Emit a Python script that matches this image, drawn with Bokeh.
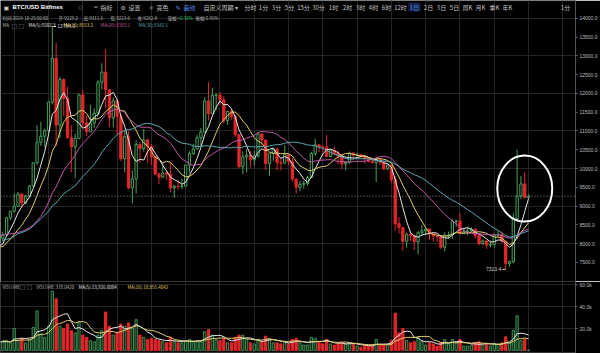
import numpy as np
import pandas as pd
from bokeh.plotting import figure
from bokeh.models import Range1d, FixedTicker, PrintfTickFormatter, Label, Span, ColumnDataSource
from bokeh.layouts import column
from bokeh.embed import file_html
from bokeh.resources import INLINE

# ---------------- data (BTC/USD Bitfinex, daily, 2019-06-13 .. 2019-10-29) ----------------
symbol = "BTC/USD Bitfinex"
start_date = "2019-06-13"

opens = [8140, 8230, 8690, 8860, 8990, 9320, 9080, 9270, 9530, 10150,
         10700, 10860, 11010, 11770, 12930, 11160, 12370, 11865, 10820, 10580,
         10800, 11960, 11215, 10980, 11210, 11475, 12300, 12570, 12100, 11350,
         11800, 11390, 10260, 10850, 9480, 9720, 10640, 10530, 10760, 10590,
         10320, 9850, 9770, 9880, 9850, 9480, 9530, 9520, 9530, 10090,
         10400, 10520, 10820, 10970, 11800, 11460, 11950, 11960, 11830, 11280,
         11520, 11380, 10900, 10050, 10310, 10360, 10230, 10340, 10920, 10760,
         10130, 10410, 10510, 10160, 10140, 10370, 10190, 9720, 9500, 9580,
         9600, 9760, 10400, 10630, 10580, 10570, 10320, 10490, 10400, 10340,
         10120, 10160, 10410, 10360, 10370, 10310, 10260, 10190, 10160, 10240,
         10170, 9990, 10090, 9700, 8530, 8430, 8060, 8240, 8210, 8050,
         8290, 8340, 8390, 8260, 8200, 8190, 7900, 8210, 8230, 8590,
         8600, 8270, 8320, 8340, 8380, 8210, 8000, 8070, 7960, 7980,
         8230, 8240, 8060, 7470, 7520, 8660, 9270, 9590, 9229.2]
highs = [8320, 8700, 8870, 9340, 9370, 9340, 9300, 9560, 10160, 11150,
         11240, 11050, 11790, 13784, 13340, 12450, 12400, 12180, 11150, 10920,
         12000, 12100, 11400, 11700, 11600, 12350, 12800, 13180, 12100, 11900,
         11850, 11450, 11000, 11000, 9950, 10750, 10700, 11050, 10800, 10650,
         10330, 9900, 10150, 9900, 10180, 9560, 9700, 9730, 10100, 10460,
         10660, 10900, 11080, 11900, 12300, 12140, 12000, 12030, 11930, 11530,
         11580, 11420, 10900, 10450, 10520, 10470, 10480, 10950, 10940, 10760,
         10230, 10520, 10560, 10300, 10620, 10380, 10280, 9720, 9670, 9680,
         9800, 10440, 10790, 10640, 10610, 10890, 10520, 10590, 10470, 10380,
         10200, 10450, 10440, 10420, 10380, 10370, 10280, 10240, 10280, 10240,
         10180, 10120, 10090, 9800, 8700, 8440, 8290, 8320, 8240, 8330,
         8500, 8400, 8390, 8250, 8220, 8160, 8300, 8320, 8660, 8640,
         8800, 8420, 8450, 8430, 8410, 8220, 8110, 8090, 8080, 8270,
         8340, 8320, 8030, 7550, 8800, 10500, 9800, 9900, 9311.6]
lows = [8050, 8200, 8630, 8820, 8980, 8950, 9040, 9230, 9530, 10100,
        10600, 10570, 10980, 11700, 10600, 10800, 11400, 10800, 9900, 9750,
        10800, 11100, 10860, 10980, 11080, 11380, 12100, 11600, 11100, 11100,
        10900, 10200, 9900, 9450, 9070, 9330, 10150, 10450, 10150, 10100,
        9830, 9580, 9750, 9690, 9370, 9220, 9430, 9450, 9500, 9890,
        10370, 10520, 10600, 10970, 11280, 11460, 11560, 11700, 11200, 11160,
        11300, 10830, 10000, 9850, 9900, 10030, 10070, 10280, 10600, 9960,
        9800, 10210, 9950, 9950, 10140, 10100, 9650, 9330, 9400, 9460,
        9540, 9750, 10340, 10440, 10430, 10330, 10320, 10350, 10100, 9980,
        9950, 10130, 10220, 10300, 10290, 10130, 10160, 10130, 9640, 10090,
        9960, 9950, 9610, 8350, 8270, 7800, 7890, 8070, 7830, 7710,
        8210, 8230, 8100, 8050, 8050, 7850, 7790, 8130, 8120, 8450,
        8240, 8270, 8220, 8300, 8140, 7950, 7960, 7860, 7900, 7890,
        8170, 8010, 7313.4, 7380, 7480, 8600, 9180, 9200, 9223.6]
closes = [8230, 8690, 8860, 8990, 9320, 9080, 9270, 9530, 10150, 10700,
          10860, 11010, 11770, 12930, 11160, 12370, 11865, 10820, 10580, 10800,
          11960, 11215, 10980, 11210, 11475, 12300, 12570, 12100, 11350, 11800,
          11390, 10260, 10850, 9480, 9720, 10640, 10530, 10760, 10590, 10320,
          9850, 9770, 9880, 9850, 9480, 9530, 9520, 9530, 10090, 10400,
          10520, 10820, 10970, 11800, 11460, 11950, 11960, 11830, 11280, 11520,
          11380, 10900, 10050, 10310, 10360, 10230, 10340, 10920, 10760, 10130,
          10410, 10510, 10160, 10140, 10370, 10190, 9720, 9500, 9580, 9600,
          9760, 10400, 10630, 10580, 10570, 10320, 10490, 10400, 10340, 10120,
          10160, 10410, 10360, 10370, 10310, 10260, 10190, 10160, 10240, 10170,
          9990, 10090, 9700, 8530, 8430, 8060, 8240, 8210, 8050, 8290,
          8340, 8390, 8260, 8200, 8190, 7900, 8210, 8230, 8590, 8600,
          8270, 8320, 8340, 8380, 8210, 8000, 8070, 7960, 7980, 8230,
          8240, 8060, 7470, 7520, 8660, 9270, 9590, 9229.2, 9262.4]
volumes = [8000, 9000, 7000, 20000, 9000, 11000, 7000, 10000, 21000, 36000,
           15000, 12000, 22000, 54000, 47000, 22000, 20000, 24000, 18000, 16000,
           26000, 14000, 12000, 9000, 8000, 14000, 18000, 35000, 22000, 14000,
           16000, 24000, 22000, 25000, 20000, 28000, 14000, 12000, 10000, 11000,
           10000, 9000, 8000, 7000, 12000, 8000, 7000, 7000, 9000, 10000,
           8000, 9000, 8000, 17000, 19000, 14000, 10000, 9000, 11000, 7000,
           7000, 12000, 14000, 14000, 10000, 7000, 6000, 10000, 8000, 13000,
           11000, 7000, 7000, 6000, 8000, 6000, 10000, 11000, 7000, 5000,
           5000, 12000, 11000, 8000, 6000, 10000, 6000, 5000, 6000, 7000,
           6000, 7000, 6000, 4000, 3000, 5000, 4000, 5000, 10000, 5000,
           5000, 5000, 9000, 34000, 16000, 20000, 9000, 7000, 8000, 12000,
           8000, 5000, 7000, 6000, 4000, 7000, 10000, 6000, 10000, 7000,
           10000, 4000, 4000, 5000, 7000, 8000, 5000, 6000, 4000, 6500,
           6000, 7000, 12500, 6924, 18500, 31500, 9000, 10252, 378.042]
# closes / volumes of the days before the first visible candle (only feed the moving averages)
prior_closes = [8200, 7880, 7350, 7270, 8200, 7990, 7950, 7630, 7880, 7990,
                8050, 8670, 8800, 8720, 8660, 8270, 8550, 8560, 8740, 8210,
                7700, 7790, 7800, 8000, 7950, 7630, 8020, 7920, 8140]
prior_volumes = [15000, 10000, 9000, 8000, 7000, 9000, 8000, 7000, 8000]

ma_periods = [5, 10, 20, 30]
ma_colors = ["#e6e6e6", "#e2cd6a", "#c257a8", "#58a8b4"]
vol_ma_periods = [5, 10]
vol_ma_colors = ["#e6e6e6", "#e2cd6a"]
price_ticks = [7500, 8000, 8500, 9000, 9500, 10000, 10500, 11000, 11500,
               12000, 12500, 13000, 13500, 14000]
price_grid = [8000, 9000, 10000, 11000, 12000, 13000, 14000]
volume_ticks = [20000, 40000, 60000]
volume_tick_labels = ["20.0k", "40.0k", "60.0k"]
period_labels = ["分时", "1分", "3分", "5分", "15分", "30分", "1时", "2时", "3时", "4时",
                 "6时", "12时", "1日", "2日", "3日", "5日", "周K", "月K", "季K", "年K"]
active_period = "1日"

# ---------------- layout constants ----------------
W, H_MAIN, H_VOL = 600, 281, 72
AXIS_W = 25
STEP = 3.81                     # px per candle
X_START = -0.6
X_END = X_START + (W - AXIS_W) / STEP
PY = 0.03754                    # px per USD
PRICE_TOP = 10000 + 168 / PY
PRICE_BOT = PRICE_TOP - H_MAIN / PY
VPY = 0.0011                    # px per BTC of volume
VOL_TOP = 60000 + 3 / VPY
VOL_BOT = VOL_TOP - H_VOL / VPY

BG = "#000000"
GRID = "#252525"
UP = "#45a35d"
DOWN = "#e3262b"
TXT = "#bdbdbd"
CJK = "Noto Sans CJK SC"
SYM = "DejaVu Sans"
LAT = "Liberation Sans"


def fx(px):
    return X_START + px / STEP


def fy(py):
    return PRICE_TOP - py / PY


def fvy(py):
    return VOL_TOP - (py - H_MAIN) / VPY


n = len(closes)
idx = np.arange(n)
o = np.array(opens, float)
c = np.array(closes, float)
h = np.array(highs, float)
l = np.array(lows, float)
v = np.array(volumes, float)
up = c >= o

src = ColumnDataSource(dict(
    idx=idx, open=o, close=c, high=h, low=l,
    top=np.maximum(o, c), bot=np.minimum(o, c),
    color=[UP if u else DOWN for u in up],
    fill=[BG if u else DOWN for u in up],
    vol=v,
    vfill=["#0d2414" if u else DOWN for u in up],
    vline=["#3d8c52" if u else DOWN for u in up],
))

all_close = pd.Series(prior_closes + closes, dtype=float)
x_all = np.arange(-len(prior_closes), n)
all_vol = pd.Series(prior_volumes + volumes, dtype=float)
xv_all = np.arange(-len(prior_volumes), n)

grid_ticks = list(range(3, 151, 9))


def style_axis(a):
    a.major_label_text_font_size = "5px"
    a.major_label_text_color = TXT
    a.major_label_text_font = LAT
    a.major_label_standoff = 2
    a.major_tick_in = 0
    a.major_tick_out = 2
    a.major_tick_line_color = "#666666"
    a.minor_tick_line_color = None
    a.axis_line_color = "#555555"


class TextBatch:
    def __init__(self):
        self.cols = dict(x=[], y=[], text=[], color=[], size=[], font=[], style=[], align=[])

    def add(self, px, yv, text, color=TXT, size="4.5px", font=CJK, bold=False, align="left"):
        cc = self.cols
        cc["x"].append(fx(px)); cc["y"].append(yv); cc["text"].append(text)
        cc["color"].append(color); cc["size"].append(size); cc["font"].append(font)
        cc["style"].append("bold" if bold else "normal"); cc["align"].append(align)

    def draw(self, fig):
        fig.text(x="x", y="y", text="text", text_color="color", text_font_size="size",
                 text_font="font", text_font_style="style", text_align="align",
                 text_baseline="middle", source=ColumnDataSource(self.cols))


def make_fig(height, y_rng, outline):
    f = figure(width=W, height=height, x_range=shared_x, y_range=y_rng, output_backend="svg",
               toolbar_location=None, y_axis_location="right", x_axis_location=None,
               min_border_left=0, min_border_right=AXIS_W, min_border_top=0, min_border_bottom=0,
               background_fill_color=BG, border_fill_color=BG, outline_line_color=outline)
    # the x grid of the (hidden) x axis: one line every 9 candles
    f.xgrid.ticker = FixedTicker(ticks=grid_ticks)
    f.xgrid.grid_line_color = GRID
    f.ygrid.grid_line_color = GRID
    style_axis(f.yaxis[0])
    return f


shared_x = Range1d(X_START, X_END)

# ---------------- main price pane ----------------
p = make_fig(H_MAIN, Range1d(PRICE_BOT, PRICE_TOP), None)
p.ygrid.ticker = FixedTicker(ticks=price_grid)
p.yaxis[0].ticker = FixedTicker(ticks=price_ticks)
p.yaxis[0].formatter = PrintfTickFormatter(format="%.1f")

p.segment(x0="idx", y0="low", x1="idx", y1="high", line_color="color", line_width=1, source=src)
p.vbar(x="idx", width=0.6, top="top", bottom="bot", fill_color="fill", line_color="color",
       line_width=1, source=src)

for per, col in zip(ma_periods, ma_colors):
    ma = all_close.rolling(per).mean().values
    p.line(x_all, ma, line_color=col, line_width=1)

# current price line + axis tag
p.add_layout(Span(location=closes[-1], dimension="width", line_color="#8a8a8a",
                  line_dash="1 2", line_width=1))
p.add_layout(Label(x=fx(577), y=closes[-1], text=f"{closes[-1]:.1f}", text_font_size="5px",
                   text_font=LAT, text_color="#ffffff", text_baseline="middle",
                   background_fill_color="#1e9a50", padding=1))

# highest / lowest markers
hi_i = int(np.argmax(h))
lo_i = int(np.argmin(l))
p.segment(x0=[hi_i], y0=[h[hi_i]], x1=[hi_i + 1.0], y1=[h[hi_i]], line_color="#cccccc", line_width=1)
p.segment(x0=[lo_i - 0.9], y0=[l[lo_i]], x1=[lo_i], y1=[l[lo_i]], line_color="#cccccc", line_width=1)

# highlight ellipse around the last candles
last = slice(n - 4, n)
p.ellipse(x=[idx[last].mean() + 0.5], y=[np.mean(np.r_[h[last], l[last]])], width=55, height=66,
          width_units="screen", height_units="screen", fill_alpha=0,
          line_color="#ffffff", line_width=2)

tb = TextBatch()
tb.add(hi_i * STEP + 0.6 * STEP + 5, h[hi_i], f"{h[hi_i]:.1f}", "#cccccc", "5px", LAT)
tb.add((lo_i + 0.6) * STEP - 4.5, l[lo_i], f"{l[lo_i]:.1f}", "#cccccc", "5px", LAT, align="right")

# ---- toolbar (top strip) ----
ty = fy(6.5)
tb.add(3, ty, "▣", "#cfcfcf", "6px", SYM)
tb.add(12, ty, symbol, "#ffffff", "6px", LAT, bold=True)
tb.add(78, ty, "○", "#9a9a9a", "5px", SYM)
tb.add(93, ty, "♒", "#bbbbbb", "5px", SYM)
tb.add(100, ty, "指标", "#c4c4c4", "6px")
tb.add(120, ty, "⚙", "#bbbbbb", "6px", SYM)
tb.add(128, ty, "设置", "#c4c4c4", "6px")
tb.add(148, ty, "☼", "#bbbbbb", "6px", SYM)
tb.add(156, ty, "亮色", "#c4c4c4", "6px")
tb.add(175, ty, "✎", "#5b8def", "6px", SYM)
tb.add(183, ty, "画线", "#5b8def", "6px")
tb.add(203, ty, "自定义周期 ▾", "#c4c4c4", "6px")
period_x = [250, 263, 276, 289, 303, 318, 333, 347, 360, 373,
            386, 400, 414, 428, 441, 454, 467, 480, 494, 507]
for t, xc in zip(period_labels, period_x):
    if t == active_period:
        p.rect(x=[fx(xc)], y=[ty], width=12, height=9, width_units="screen",
               height_units="screen", fill_color="#142348", line_color=None)
        tb.add(xc, ty, t, "#4f86e8", "6px", align="center")
    else:
        tb.add(xc, ty, t, "#c4c4c4", "6px", align="center")
tb.add(565, ty, "1分", "#c4c4c4", "6px", align="center")

# ---- info rows ----
r1 = fy(17)
prev_close = closes[-2]
chg = (closes[-1] - prev_close) / prev_close * 100
amp = (highs[-1] - lows[-1]) / prev_close * 100
date_str = (pd.Timestamp(start_date) + pd.Timedelta(days=n - 1)).strftime("%Y-%m-%d 00:00")
tb.add(2, r1, f"时间:{date_str}")
tb.add(58, r1, f"开:{opens[-1]:.1f}")
tb.add(83, r1, f"高:{highs[-1]:.1f}")
tb.add(110, r1, f"低:{lows[-1]:.1f}")
tb.add(137, r1, f"收:{closes[-1]:.1f}")
tb.add(167, r1, "涨幅:")
tb.add(177, r1, f"{chg:+.2f}%", "#3cc36a")
tb.add(195, r1, f"振幅:{amp:.2f}%")

r2 = fy(24.5)
tb.add(2, r2, "MA")
tb.add(11, r2, "□", "#888888", "6px", SYM)
tb.add(18, r2, "□", "#888888", "6px", SYM)
ma_x = [28, 63, 100, 138]
for per, col, xp in zip(ma_periods, ma_colors, ma_x):
    val = all_close.rolling(per).mean().values[-1]
    tb.add(xp, r2, f"MA({per}):{val:.1f}", col)
tb.draw(p)
p.add_layout(Label(x=fx(577), y=ty, text="◙", text_font_size="6px", text_font=SYM,
                   text_color="#9a9a9a", text_baseline="middle"))
p.add_layout(Label(x=fx(590), y=ty, text="⤢", text_font_size="6px", text_font=SYM,
                   text_color="#9a9a9a", text_baseline="middle"))

# ---------------- volume pane ----------------
pv = make_fig(H_VOL, Range1d(VOL_BOT, VOL_TOP), "#353535")
pv.yaxis[0].ticker = FixedTicker(ticks=volume_ticks)
pv.yaxis[0].major_label_overrides = {t: s for t, s in zip(volume_ticks, volume_tick_labels)}

pv.vbar(x="idx", width=0.6, top="vol", bottom=0, fill_color="vfill", line_color="vline",
        line_width=1, source=src)
for per, col in zip(vol_ma_periods, vol_ma_colors):
    vm = all_vol.rolling(per).mean().values
    pv.line(xv_all, vm, line_color=col, line_width=1)

vb = TextBatch()
vr = fvy(286)
vb.add(2, vr, "VOLUME")
vb.add(19, vr, "□", "#888888", "6px", SYM)
vb.add(26, vr, "□", "#888888", "6px", SYM)
vb.add(36, vr, f"VOLUME:{volumes[-1]:.4f}")
vm_x = [78, 127]
for per, col, xp in zip(vol_ma_periods, vol_ma_colors, vm_x):
    val = all_vol.rolling(per).mean().values[-1]
    vb.add(xp, vr, f"MA({per}):{val:,.4f}", col)
vb.draw(pv)
pv.add_layout(Label(x=fx(577), y=volumes[-1] + 1500, text=f"{volumes[-1]:.0f}",
                    text_font_size="5px", text_font=LAT, text_color="#ffffff",
                    text_baseline="middle", background_fill_color="#d99a1a", padding=1))

layout = column(p, pv, spacing=0)
open("out.html", "w").write(file_html(layout, INLINE))
